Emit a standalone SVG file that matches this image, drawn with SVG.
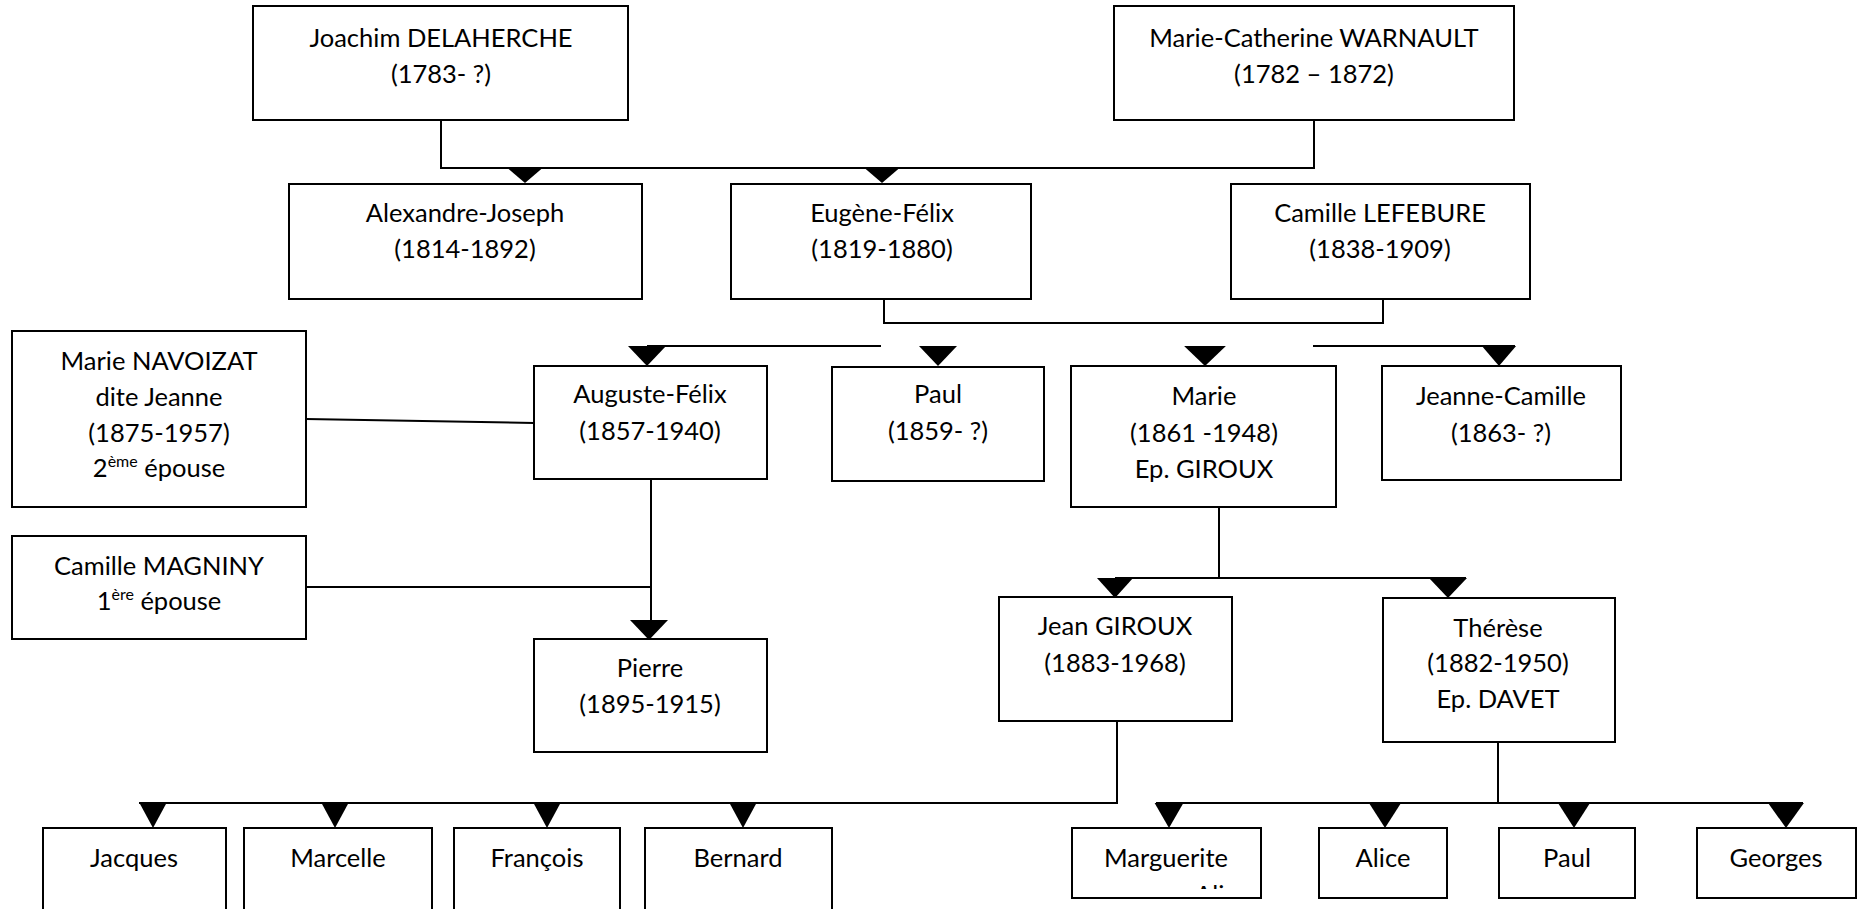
<svg xmlns="http://www.w3.org/2000/svg" width="1858" height="909" viewBox="0 0 1858 909">
<style>
  .box { fill: #ffffff; stroke: #000000; stroke-width: 2; }
  .ln { fill: none; stroke: #000000; stroke-width: 2; }
  .t { font-family: Lato, "Liberation Sans", sans-serif; font-size: 25.5px; fill: #000000; text-anchor: middle; }
  .sup { font-size: 16px; }
  .tri { fill: #000000; }
</style>
<defs>
  <path id="triA" d="M-17.5,0 L17.5,0 L0,15 Z"/>
  <path id="triB" d="M-19,0 L19,0 L0,20 Z"/>
  <path id="triC" d="M-13.5,0 L13.5,0 L0,25 Z"/>
  <path id="triD" d="M-16,0 L16,0 L0,25 Z"/>
  <clipPath id="clipAlice"><rect x="1185" y="880" width="51" height="9"/></clipPath>
</defs>
<rect x="0" y="0" width="1858" height="909" fill="#ffffff"/>

<g id="connectors">
  <polyline class="ln" points="441,120 441,168 1314,168 1314,120"/>
  <polyline class="ln" points="884,299 884,323 1383,323 1383,299"/>
  <line class="ln" x1="647" y1="346" x2="881" y2="346"/>
  <line class="ln" x1="1313" y1="346" x2="1515" y2="346"/>
  <line class="ln" x1="306" y1="419" x2="534" y2="423"/>
  <line class="ln" x1="306" y1="587" x2="651" y2="587"/>
  <line class="ln" x1="651" y1="479" x2="651" y2="622"/>
  <polyline class="ln" points="1219,507 1219,578"/>
  <line class="ln" x1="1115" y1="578" x2="1466" y2="578"/>
  <polyline class="ln" points="1117,721 1117,803 139,803"/>
  <line class="ln" x1="1498" y1="742" x2="1498" y2="803"/>
  <line class="ln" x1="1156" y1="803" x2="1803" y2="803"/>
  <use href="#triA" class="tri" x="525" y="168"/>
  <use href="#triA" class="tri" x="882" y="168"/>
  <use href="#triB" class="tri" x="647" y="346"/>
  <use href="#triB" class="tri" x="938" y="346"/>
  <use href="#triB" class="tri" x="1205" y="346" transform="translate(1205,0) scale(1.1,1) translate(-1205,0)"/>
  <use href="#triB" class="tri" x="1499" y="346" transform="translate(1499,0) scale(0.9,1) translate(-1499,0)"/>
  <use href="#triB" class="tri" x="649" y="620"/>
  <use href="#triB" class="tri" x="1115" y="578" transform="translate(1115,0) scale(0.95,1) translate(-1115,0)"/>
  <use href="#triB" class="tri" x="1448" y="578"/>
  <use href="#triC" class="tri" x="153" y="803"/>
  <use href="#triC" class="tri" x="335" y="803"/>
  <use href="#triC" class="tri" x="547" y="803"/>
  <use href="#triC" class="tri" x="743" y="803"/>
  <use href="#triD" class="tri" x="1169" y="803" transform="translate(1169,0) scale(0.9,1) translate(-1169,0)"/>
  <use href="#triD" class="tri" x="1385" y="803"/>
  <use href="#triD" class="tri" x="1574" y="803"/>
  <use href="#triD" class="tri" x="1786" y="803" transform="translate(1786,0) scale(1.12,1) translate(-1786,0)"/>
</g>

<g id="joachim">
  <rect class="box" x="253" y="6" width="375" height="114"/>
  <text class="t" x="441" y="47">Joachim DELAHERCHE</text>
  <text class="t" x="441" y="83">(1783- ?)</text>
</g>
<g id="warnault">
  <rect class="box" x="1114" y="6" width="400" height="114"/>
  <text class="t" x="1314" y="47">Marie-Catherine WARNAULT</text>
  <text class="t" x="1314" y="83">(1782 – 1872)</text>
</g>
<g id="alexandre">
  <rect class="box" x="289" y="184" width="353" height="115"/>
  <text class="t" x="465" y="222">Alexandre-Joseph</text>
  <text class="t" x="465" y="258">(1814-1892)</text>
</g>
<g id="eugene">
  <rect class="box" x="731" y="184" width="300" height="115"/>
  <text class="t" x="882" y="222">Eugène-Félix</text>
  <text class="t" x="882" y="258">(1819-1880)</text>
</g>
<g id="lefebure">
  <rect class="box" x="1231" y="184" width="299" height="115"/>
  <text class="t" x="1380" y="222">Camille LEFEBURE</text>
  <text class="t" x="1380" y="258">(1838-1909)</text>
</g>
<g id="navoizat">
  <rect class="box" x="12" y="331" width="294" height="176"/>
  <text class="t" x="159" y="370">Marie NAVOIZAT</text>
  <text class="t" x="159" y="406">dite Jeanne</text>
  <text class="t" x="159" y="442">(1875-1957)</text>
  <text class="t" x="159" y="477">2<tspan class="sup" dy="-10">ème</tspan><tspan dy="10"> épouse</tspan></text>
</g>
<g id="auguste">
  <rect class="box" x="534" y="366" width="233" height="113"/>
  <text class="t" x="650" y="403">Auguste-Félix</text>
  <text class="t" x="650" y="440">(1857-1940)</text>
</g>
<g id="paul1">
  <rect class="box" x="832" y="367" width="212" height="114"/>
  <text class="t" x="938" y="403">Paul</text>
  <text class="t" x="938" y="440">(1859- ?)</text>
</g>
<g id="marie">
  <rect class="box" x="1071" y="366" width="265" height="141"/>
  <text class="t" x="1204" y="405">Marie</text>
  <text class="t" x="1204" y="442">(1861 -1948)</text>
  <text class="t" x="1204" y="478">Ep. GIROUX</text>
</g>
<g id="jeanne-camille">
  <rect class="box" x="1382" y="366" width="239" height="114"/>
  <text class="t" x="1501" y="405">Jeanne-Camille</text>
  <text class="t" x="1501" y="442">(1863- ?)</text>
</g>
<g id="magniny">
  <rect class="box" x="12" y="536" width="294" height="103"/>
  <text class="t" x="159" y="575">Camille MAGNINY</text>
  <text class="t" x="159" y="610">1<tspan class="sup" dy="-10">ère</tspan><tspan dy="10"> épouse</tspan></text>
</g>
<g id="pierre">
  <rect class="box" x="534" y="639" width="233" height="113"/>
  <text class="t" x="650" y="677">Pierre</text>
  <text class="t" x="650" y="713">(1895-1915)</text>
</g>
<g id="jean-giroux">
  <rect class="box" x="999" y="597" width="233" height="124"/>
  <text class="t" x="1115" y="635">Jean GIROUX</text>
  <text class="t" x="1115" y="672">(1883-1968)</text>
</g>
<g id="therese">
  <rect class="box" x="1383" y="598" width="232" height="144"/>
  <text class="t" x="1498" y="637">Thérèse</text>
  <text class="t" x="1498" y="672">(1882-1950)</text>
  <text class="t" x="1498" y="708">Ep. DAVET</text>
</g>
<g id="jacques">
  <rect class="box" x="43" y="828" width="183" height="100"/>
  <text class="t" x="134" y="867">Jacques</text>
</g>
<g id="marcelle">
  <rect class="box" x="244" y="828" width="188" height="100"/>
  <text class="t" x="338" y="867">Marcelle</text>
</g>
<g id="francois">
  <rect class="box" x="454" y="828" width="166" height="100"/>
  <text class="t" x="537" y="867">François</text>
</g>
<g id="bernard">
  <rect class="box" x="645" y="828" width="187" height="100"/>
  <text class="t" x="738" y="867">Bernard</text>
</g>
<g id="marguerite">
  <rect class="box" x="1072" y="828" width="189" height="70"/>
  <text class="t" x="1166" y="867">Marguerite</text>
  <text class="t" x="1195" y="904" style="text-anchor:start" clip-path="url(#clipAlice)">Alice</text>
</g>
<g id="alice">
  <rect class="box" x="1319" y="828" width="128" height="70"/>
  <text class="t" x="1383" y="867">Alice</text>
</g>
<g id="paul2">
  <rect class="box" x="1499" y="828" width="136" height="70"/>
  <text class="t" x="1567" y="867">Paul</text>
</g>
<g id="georges">
  <rect class="box" x="1697" y="828" width="159" height="70"/>
  <text class="t" x="1776" y="867">Georges</text>
</g>
</svg>
